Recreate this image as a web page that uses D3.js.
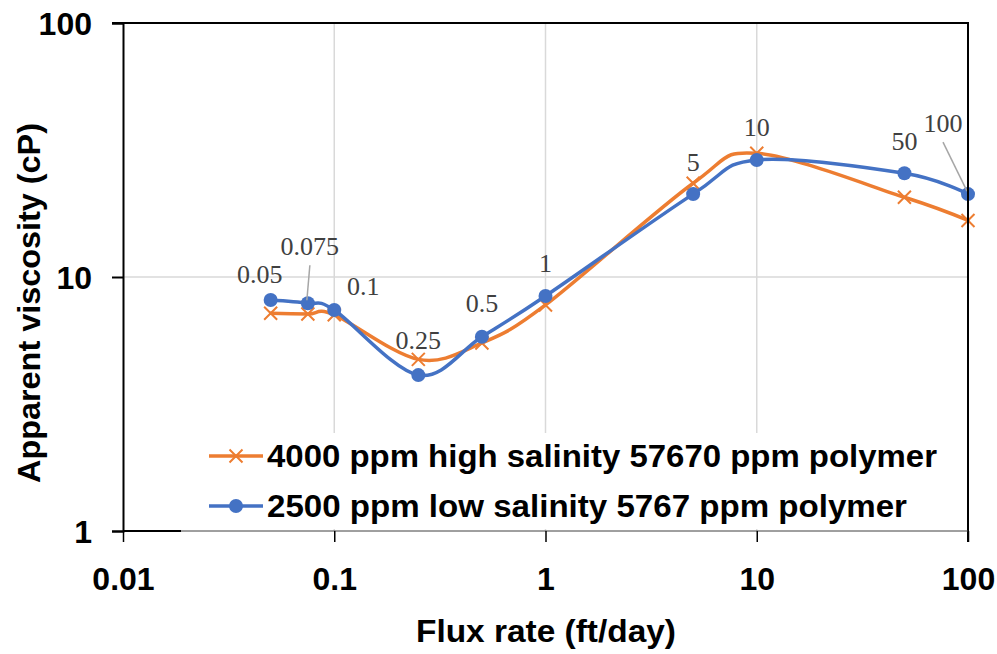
<!DOCTYPE html>
<html>
<head>
<meta charset="utf-8">
<script src="https://cdn.jsdelivr.net/npm/d3@7"></script>
<style>
  html, body { margin: 0; padding: 0; background: #fff; }
  svg { display: block; }
</style>
</head>
<body>
<svg id="chart" width="997" height="654"></svg>
<script>
// ---------- data ----------
const fluxRates = [0.05, 0.075, 0.1, 0.25, 0.5, 1, 5, 10, 50, 100];
const fluxLabels = ["0.05", "0.075", "0.1", "0.25", "0.5", "1", "5", "10", "50", "100"];
const highSalinity = [7.2, 7.15, 7.1, 4.74, 5.5, 7.76, 23.4, 30.7, 20.6, 16.7];
const lowSalinity = [8.12, 7.88, 7.41, 4.11, 5.82, 8.42, 21.2, 28.9, 25.6, 21.2];
const seriesNames = ["4000 ppm high salinity 57670 ppm polymer", "2500 ppm low salinity 5767 ppm polymer"];
const xTicks = [0.01, 0.1, 1, 10, 100];
const xTickLabels = ["0.01", "0.1", "1", "10", "100"];
const yTicks = [1, 10, 100];
const yTickLabels = ["1", "10", "100"];

// ---------- layout (not data) ----------
const labelOffsets = [[-11, -17], [2, -48], [29, -15], [0, -10], [0, -25], [0, -24], [0, -12], [0, -17], [0, -23], [-25, -62]];
const leaderIdx = [1, 9];
const pLeft = 123, pRight = 968, pTop = 23, pBottom = 531;
const orange = "#ED7D31", blue = "#4472C4";
const sans = "'Liberation Sans', Arial, sans-serif";

const svg = d3.select("#chart");
const x = d3.scaleLog().domain([0.01, 100]).range([pLeft, pRight]);
const y = d3.scaleLog().domain([1, 100]).range([pBottom, pTop]);

// gridlines
const g = svg.append("g");
g.selectAll("line.vg").data(xTicks.slice(1, -1)).enter().append("line")
  .attr("x1", d => x(d)).attr("x2", d => x(d)).attr("y1", pTop).attr("y2", pBottom)
  .attr("stroke", "#d9d9d9").attr("stroke-width", 1.5);
g.selectAll("line.hg").data(yTicks.slice(1, -1)).enter().append("line")
  .attr("x1", pLeft).attr("x2", pRight).attr("y1", d => y(d)).attr("y2", d => y(d))
  .attr("stroke", "#d9d9d9").attr("stroke-width", 1.5);

// series
const series = [
  { name: seriesNames[0], vals: highSalinity, color: orange, marker: "x" },
  { name: seriesNames[1], vals: lowSalinity, color: blue, marker: "circle" }
];
const line = d3.line().x(d => x(d[0])).y(d => y(d[1])).curve(d3.curveCatmullRom.alpha(0));

function drawMarker(sel, s, cx, cy) {
  if (s.marker === "x") {
    const r = 6.5;
    sel.append("path").attr("d", `M${cx - r},${cy - r}L${cx + r},${cy + r}M${cx - r},${cy + r}L${cx + r},${cy - r}`)
      .attr("stroke", s.color).attr("stroke-width", 2).attr("fill", "none");
  } else {
    sel.append("circle").attr("cx", cx).attr("cy", cy).attr("r", 7).attr("fill", s.color);
  }
}

series.forEach(s => {
  const pts = fluxRates.map((f, i) => [f, s.vals[i]]);
  svg.append("path").attr("d", line(pts)).attr("fill", "none")
    .attr("stroke", s.color).attr("stroke-width", 3.5).attr("stroke-linecap", "round");
  const mg = svg.append("g");
  pts.forEach(p => drawMarker(mg, s, x(p[0]), y(p[1])));
});

// data labels
const lg = svg.append("g");
fluxRates.forEach((f, i) => {
  const px = x(f);
  const py = Math.min(y(highSalinity[i]), y(lowSalinity[i]));
  const [dx, dy] = labelOffsets[i];
  const lx = px + dx, ly = py + dy;
  if (leaderIdx.includes(i)) {
    lg.append("line").attr("x1", lx).attr("y1", ly + 10).attr("x2", px - 1).attr("y2", y(lowSalinity[i]) - 3)
      .attr("stroke", "#a6a6a6").attr("stroke-width", 1.5);
  }
  lg.append("text").attr("x", lx).attr("y", ly).attr("text-anchor", "middle")
    .attr("font-family", "'Liberation Serif', 'Times New Roman', serif").attr("font-size", 26)
    .attr("fill", "#404040").text(fluxLabels[i]);
});

// legend
const legX = 209, legY0 = 456, legDY = 50;
svg.append("rect").attr("x", 196).attr("y", 433).attr("width", 750).attr("height", 96).attr("fill", "#fff");
series.forEach((s, i) => {
  const cy = legY0 + i * legDY;
  svg.append("line").attr("x1", legX).attr("x2", legX + 54).attr("y1", cy).attr("y2", cy)
    .attr("stroke", s.color).attr("stroke-width", 3.5);
  drawMarker(svg, s, legX + 27, cy);
  svg.append("text").attr("x", 267).attr("y", cy + 11)
    .attr("font-family", sans).attr("font-weight", "bold")
    .attr("font-size", 32).attr("textLength", i === 0 ? 670 : 640).attr("lengthAdjust", "spacingAndGlyphs")
    .attr("fill", "#000").text(s.name);
});

// frame
svg.append("line").attr("x1", 112).attr("x2", pRight + 1).attr("y1", pTop).attr("y2", pTop).attr("stroke", "#000").attr("stroke-width", 2);
svg.append("line").attr("x1", pRight).attr("x2", pRight).attr("y1", pTop).attr("y2", pBottom + 11).attr("stroke", "#000").attr("stroke-width", 2);
svg.append("line").attr("x1", pLeft).attr("x2", pRight).attr("y1", pBottom).attr("y2", pBottom).attr("stroke", "#404040").attr("stroke-width", 1);
svg.append("line").attr("x1", pLeft).attr("x2", 181).attr("y1", pBottom).attr("y2", pBottom).attr("stroke", "#000").attr("stroke-width", 2);

// y axis
const yAxis = d3.axisLeft(y).tickValues(yTicks).tickFormat((d, i) => yTickLabels[i]).tickSizeOuter(0).tickSize(11).tickPadding(20);
const ya = svg.append("g").attr("transform", `translate(${pLeft},0)`).call(yAxis);
ya.select(".domain").attr("stroke", "#000").attr("stroke-width", 2);
ya.selectAll(".tick line").attr("stroke", "#000").attr("stroke-width", 2);
ya.selectAll(".tick text").attr("font-family", sans).attr("font-weight", "bold")
  .attr("font-size", 32).attr("fill", "#000").attr("dy", "0.36em");

// x axis
const xAxis = d3.axisBottom(x).tickValues(xTicks).tickFormat((d, i) => xTickLabels[i]).tickSizeOuter(0).tickSize(11).tickPadding(25);
const xa = svg.append("g").attr("transform", `translate(0,${pBottom})`).call(xAxis);
xa.select(".domain").remove();
xa.selectAll(".tick line").attr("stroke", "#000").attr("stroke-width", 1.5);
xa.selectAll(".tick text").attr("font-family", sans).attr("font-weight", "bold")
  .attr("font-size", 32).attr("fill", "#000");

// axis titles
svg.append("text").attr("x", 546).attr("y", 642).attr("text-anchor", "middle")
  .attr("font-family", sans).attr("font-weight", "bold")
  .attr("font-size", 32).attr("textLength", 260).attr("lengthAdjust", "spacingAndGlyphs").text("Flux rate (ft/day)");
svg.append("text").attr("transform", "translate(40,303) rotate(-90)").attr("text-anchor", "middle")
  .attr("font-family", sans).attr("font-weight", "bold")
  .attr("font-size", 32).attr("textLength", 360).attr("lengthAdjust", "spacingAndGlyphs").text("Apparent viscosity (cP)");
</script>
</body>
</html>
